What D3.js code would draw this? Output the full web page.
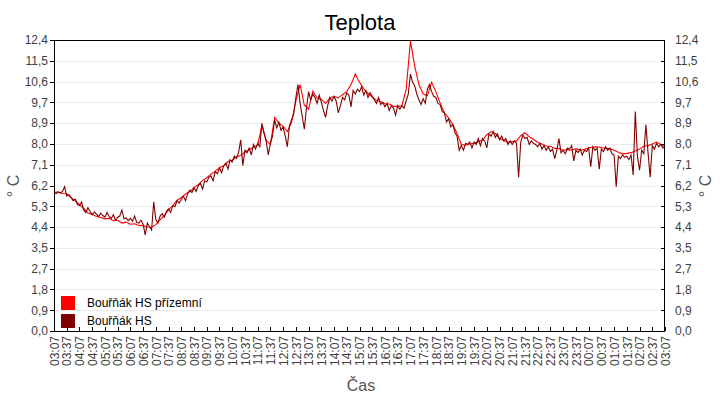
<!DOCTYPE html>
<html>
<head>
<meta charset="utf-8">
<script src="https://cdn.jsdelivr.net/npm/d3@7"></script>
<style>
  body { margin: 0; background: #fff; }
  svg { display: block; font-family: "Liberation Sans", Arial, sans-serif; }
</style>
</head>
<body>
<div id="chart"></div>
<script>
// chart data
const seriesNames = ['Bouřňák HS přízemní', 'Bouřňák HS'];
const seriesColors = ['#ff0000', '#800000'];

// Bouřňák HS přízemní, every 10 minutes from 03:07
const groundTemps = [
  5.9, 5.93, 5.86, 5.85, 5.68, 5.56, 5.38, 5.22, 5.03, 4.97,
  4.88, 4.84, 4.78, 4.8, 4.7, 4.72, 4.6, 4.64, 4.55, 4.57,
  4.5, 4.49, 4.43, 4.42, 4.53, 4.74, 4.93, 5.17, 5.33, 5.57,
  5.68, 5.84, 5.93, 6.12, 6.23, 6.42, 6.53, 6.68, 6.8, 6.97,
  7.03, 7.22, 7.28, 7.43, 7.48, 7.63, 7.72, 7.83, 7.93, 8.75,
  8.12, 7.95, 9.1, 8.85, 8.72, 8.5, 8.9, 9.8, 10.5, 9.62,
  9.45, 10.22, 9.93, 9.87, 9.7, 9.92, 10.0, 9.93, 10.07, 10.2,
  10.5, 10.95, 10.6, 10.32, 10.13, 9.97, 9.83, 9.77, 9.68, 9.67,
  9.58, 9.57, 9.6, 10.3, 12.35, 11.3, 10.5, 10.1, 10.02, 10.6,
  10.2, 9.72, 9.3, 9.07, 8.8, 8.42, 7.95, 7.92, 7.97, 8.0,
  8.07, 8.13, 8.37, 8.5, 8.42, 8.2, 8.12, 8.04, 8.07, 8.1,
  8.32, 8.45, 8.28, 8.17, 8.03, 7.97, 7.88, 7.87, 7.78, 7.77,
  7.7, 7.73, 7.7, 7.77, 7.7, 7.74, 7.8, 7.84, 7.85, 7.82,
  7.78, 7.76, 7.7, 7.62, 7.55, 7.57, 7.6, 7.67, 7.75, 7.87,
  7.9, 7.97, 8.05, 7.95, 7.85
];

// Bouřňák HS, every 5 minutes from 03:07 (one row = one hour)
const stationTemps = [
  5.9, 5.85, 5.92, 5.88, 5.95, 6.15, 5.75, 5.82, 5.7, 5.55, 5.62, 5.4,
  5.35, 5.5, 5.15, 5.05, 5.25, 5.1, 4.95, 5.08, 4.98, 4.88, 5.02, 4.92,
  4.85, 5.05, 4.88, 4.8, 4.95, 4.72, 4.85, 4.9, 5.15, 4.78, 4.82, 4.7,
  4.8, 4.68, 4.9, 4.62, 4.6, 4.72, 4.55, 4.1, 4.6, 4.45, 4.3, 5.5,
  4.75, 4.6, 4.9, 5.0, 4.85, 5.1, 5.2, 5.05, 5.35, 5.3, 5.55, 5.45,
  5.6, 5.75, 5.55, 5.85, 6.0, 5.9, 6.1, 5.95, 6.2, 6.3, 6.05, 6.4,
  6.35, 6.55, 6.6, 6.4, 6.8, 6.7, 6.95, 6.75, 7.05, 7.15, 6.9, 7.3,
  7.2, 7.45, 7.35, 7.6, 8.15, 7.05, 7.7, 7.6, 7.8, 7.5, 7.95, 7.75,
  8.0, 7.85, 8.85, 8.45, 8.1, 7.5, 8.0, 8.3, 9.0, 8.65, 8.9, 8.55,
  8.7, 8.3, 7.85, 8.75, 9.0, 9.25, 9.95, 10.5, 9.7, 9.15, 8.6, 9.5,
  10.2, 9.85, 10.1, 9.95, 9.7, 10.05, 9.75, 9.4, 9.1, 9.6, 9.95, 9.8,
  10.0, 9.8, 9.3, 9.6, 9.95, 9.85, 10.15, 10.05, 9.55, 10.25, 10.1, 10.3,
  10.2, 10.4, 10.05, 10.25, 9.95, 10.15, 10.0, 9.85, 9.7, 9.95, 9.65, 9.75,
  9.55, 9.7, 9.4, 9.6, 9.5, 9.2, 9.6, 9.45, 9.6, 9.5, 9.8, 10.1,
  10.95, 10.6, 10.45, 10.1, 9.85, 9.65, 9.9, 9.7, 10.3, 10.5, 10.2, 10.0,
  9.95, 9.7, 9.65, 9.35, 9.3, 8.9, 9.05, 8.7, 8.8, 8.45, 8.3, 7.7,
  7.9, 7.7, 8.0, 7.95, 8.05, 7.8, 8.05, 7.95, 8.2, 7.9, 8.2, 8.1,
  7.8, 8.4, 8.3, 8.5, 8.25, 8.4, 8.15, 8.3, 8.1, 8.2, 7.95, 8.1,
  7.95, 8.1, 8.0, 6.55, 8.05, 8.35, 8.2, 8.25, 7.95, 8.1, 8.0, 7.95,
  7.85, 8.0, 7.75, 7.9, 7.7, 7.85, 7.65, 7.75, 7.35, 7.7, 8.2, 7.6,
  7.7, 7.55, 7.8, 7.75, 7.9, 7.25, 7.7, 7.6, 7.75, 7.5, 7.7, 7.65,
  7.8, 7.0, 7.85, 7.7, 7.8, 6.9, 7.75, 7.65, 7.85, 7.7, 7.8, 7.55,
  7.5, 6.15, 7.45, 7.35, 7.5, 7.4, 7.45, 7.3, 7.5, 6.65, 9.35, 7.45,
  6.85, 7.7, 7.55, 8.8, 7.6, 6.55, 7.9, 7.75, 8.0, 7.85, 7.95, 7.8,
  7.85
];

const yTickLabels = ['0,0', '0,9', '1,8', '2,7', '3,5', '4,4', '5,3', '6,2',
  '7,1', '8,0', '8,9', '9,7', '10,6', '11,5', '12,4'];
const yMax = 12.4;

const xTickLabels = [
  '03:07', '03:37', '04:07', '04:37', '05:07', '05:37', '06:07', '06:37',
  '07:07', '07:37', '08:07', '08:37', '09:07', '09:37', '10:07', '10:37',
  '11:07', '11:37', '12:07', '12:37', '13:07', '13:37', '14:07', '14:37',
  '15:07', '15:37', '16:07', '16:37', '17:07', '17:37', '18:07', '18:37',
  '19:07', '19:37', '20:07', '20:37', '21:07', '21:37', '22:07', '22:37',
  '23:07', '23:37', '00:07', '00:37', '01:07', '01:37', '02:07', '02:37',
  '03:07'
];

const startTime = new Date(2020, 0, 1, 3, 7);
const minute = 60 * 1000;

// layout
const width = 720;
const height = 400;
const margin = { top: 40, right: 55, bottom: 69, left: 54 };

const svg = d3.select('#chart')
  .append('svg')
  .attr('width', width)
  .attr('height', height);

const x = d3.scaleTime()
  .domain([startTime, new Date(+startTime + 24 * 60 * minute)])
  .range([margin.left, width - margin.right]);

const y = d3.scaleLinear()
  .domain([0, yMax])
  .range([height - margin.bottom, margin.top]);

const yTicks = yTickLabels.map((d, i) => i * yMax / (yTickLabels.length - 1));
const xTicks = xTickLabels.map((d, i) => new Date(+startTime + i * 30 * minute));

// gridlines
svg.append('g')
  .selectAll('line')
  .data(yTicks.slice(1, -1))
  .join('line')
  .attr('x1', margin.left)
  .attr('x2', width - margin.right)
  .attr('y1', d => Math.round(y(d)) + 0.5)
  .attr('y2', d => Math.round(y(d)) + 0.5)
  .attr('stroke', '#ebebeb')
  .attr('shape-rendering', 'crispEdges');

// lines
const groundData = groundTemps.map((v, i) => ({ t: new Date(+startTime + i * 10 * minute), v }));
const stationData = stationTemps.map((v, i) => ({ t: new Date(+startTime + i * 5 * minute), v }));

const line = d3.line()
  .x(d => x(d.t))
  .y(d => y(d.v));

[groundData, stationData].forEach((data, k) => {
  svg.append('path')
    .datum(data)
    .attr('d', line)
    .attr('fill', 'none')
    .attr('stroke', seriesColors[k])
    .attr('stroke-width', 1.1);
});

// frame
svg.append('rect')
  .attr('x', margin.left + 0.5)
  .attr('y', margin.top + 0.5)
  .attr('width', width - margin.left - margin.right - 1)
  .attr('height', height - margin.top - margin.bottom)
  .attr('fill', 'none')
  .attr('stroke', '#000')
  .attr('shape-rendering', 'crispEdges');

// left axis
const leftAxis = d3.axisLeft(y)
  .tickValues(yTicks)
  .tickFormat((d, i) => yTickLabels[i])
  .tickSize(4)
  .tickPadding(2);

const gl = svg.append('g')
  .attr('transform', `translate(${margin.left},0)`)
  .call(leftAxis);

// right axis, ticks pointing inwards
const rightAxis = d3.axisRight(y)
  .tickValues(yTicks)
  .tickFormat((d, i) => yTickLabels[i])
  .tickSize(-4)
  .tickPadding(10);

const gr = svg.append('g')
  .attr('transform', `translate(${width - margin.right},0)`)
  .call(rightAxis);

// bottom axis, ticks pointing inwards
const bottomAxis = d3.axisBottom(x)
  .tickValues(xTicks)
  .tickFormat((d, i) => xTickLabels[i])
  .tickSize(-4);

const gb = svg.append('g')
  .attr('transform', `translate(0,${height - margin.bottom})`)
  .call(bottomAxis);

gb.selectAll('text')
  .attr('transform', 'rotate(-90)')
  .attr('x', -5)
  .attr('y', 0)
  .attr('dy', '0.35em')
  .attr('text-anchor', 'end');

[gl, gr, gb].forEach(g => {
  g.select('.domain').remove();
  g.selectAll('line').attr('stroke', '#000').attr('shape-rendering', 'crispEdges');
  g.selectAll('text')
    .style('font-family', '"Liberation Sans", Arial, sans-serif')
    .style('font-size', '12px')
    .attr('fill', '#404040');
});

// title
svg.append('text')
  .attr('x', 360)
  .attr('y', 30)
  .attr('text-anchor', 'middle')
  .style('font-size', '22px')
  .attr('fill', '#000')
  .text('Teplota');

// axis titles
svg.append('text')
  .attr('x', 361)
  .attr('y', 391)
  .attr('text-anchor', 'middle')
  .style('font-size', '16px')
  .attr('fill', '#555')
  .text('Čas');

[19, 711].forEach(px => {
  svg.append('text')
    .attr('transform', `translate(${px},186) rotate(-90)`)
    .attr('text-anchor', 'middle')
    .style('font-size', '16px')
    .attr('fill', '#555')
    .text('° C');
});

// legend
const legend = svg.append('g')
  .selectAll('g')
  .data(seriesNames)
  .join('g')
  .attr('transform', (d, i) => `translate(61,${296 + i * 18})`);

legend.append('rect')
  .attr('width', 14)
  .attr('height', 14)
  .attr('fill', (d, i) => seriesColors[i]);

legend.append('text')
  .attr('x', 26)
  .attr('y', 11)
  .style('font-size', '12px')
  .attr('fill', '#000')
  .text(d => d);
</script>
</body>
</html>
